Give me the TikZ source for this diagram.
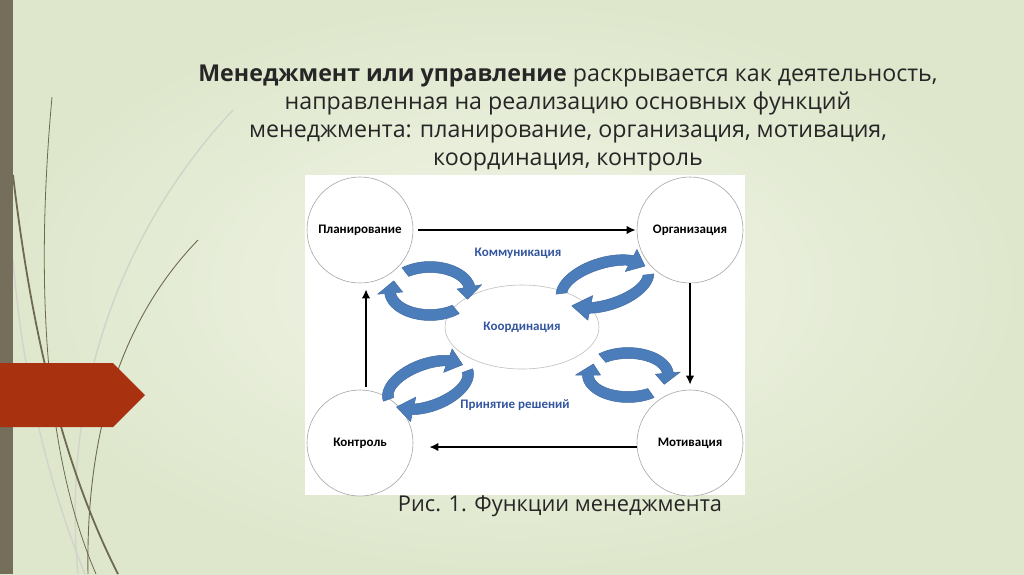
\documentclass[tikz,border=0pt]{standalone}
\usepackage{fontspec}
\setmainfont{Open Sans}
\newfontfamily\diagfont{Carlito}
\usetikzlibrary{arrows.meta,shapes.geometric}
\definecolor{barolive}{RGB}{116,110,90}
\definecolor{tagred}{RGB}{168,50,16}
\definecolor{curveolive}{RGB}{110,106,80}
\definecolor{rotblue}{RGB}{76,125,187}
\definecolor{labblue}{RGB}{52,86,160}
\definecolor{txtdark}{RGB}{38,38,38}

\newcommand{\rotarr}[7]{%
  \pgfmathsetmacro{\tipang}{#6+30*sign(#6-#5)}
  \begin{scope}[rotate around={#7:(#1,#2)}]
  \filldraw[rotblue!60!black!35!rotblue, fill=rotblue, line width=0.5pt, line join=round]
    plot[domain=#5:#6, samples=24] ({#1+(#3+5.5)*cos(\x)},{#2+(#4+5.5)*sin(\x)})
    -- ({#1+(#3+12.5)*cos(#6)},{#2+(#4+12.5)*sin(#6)})
    -- ({#1+#3*cos(\tipang)},{#2+#4*sin(\tipang)})
    -- ({#1+(#3-12.5)*cos(#6)},{#2+(#4-12.5)*sin(#6)})
    -- plot[domain=#6:#5, samples=24] ({#1+(#3-5.5)*cos(\x)},{#2+(#4-5.5)*sin(\x)})
    -- cycle;
  \end{scope}}

\begin{document}
\begin{tikzpicture}[x=1pt,y=-1pt,
  func/.style={circle, draw=gray!70, line width=0.6pt, fill=white, minimum size=106pt, inner sep=0pt, font=\diagfont\bfseries\fontsize{13}{15}\selectfont},
  bluetxt/.style={text=labblue, font=\diagfont\bfseries\fontsize{13}{15}\selectfont},
  flow/.style={line width=2.8pt, -{Latex[length=9pt,width=8.5pt]}},
  deco/.style={draw=curveolive, line width=1.1pt},
  decolight/.style={draw=curveolive!30, line width=1.4pt}]
\useasboundingbox (0,0) rectangle (1024,574);
\shade[inner color={rgb,255:red,242;green,245;blue,232}, outer color={rgb,255:red,222;green,231;blue,204}] (0,0) rectangle (1024,574);

\draw[decolight] (233,110) .. controls (130,220) and (60,380) .. (78,574);
\draw[decolight] (13,260) .. controls (25,400) and (55,500) .. (85,574);
\draw[deco, line width=0.8pt] (52,97) .. controls (38,250) and (38,440) .. (96,574);
\draw[deco, line width=1.8pt] (13,175) .. controls (30,320) and (60,460) .. (118,574);
\draw[deco, line width=0.9pt] (198,240) .. controls (140,300) and (85,400) .. (88,574);
\fill[barolive] (0,0) rectangle (13,574);
\fill[tagred] (0,363) -- (113,363) -- (145,395) -- (113,427) -- (0,427) -- cycle;

\node[text=txtdark, align=center, font=\fontsize{23.2}{28}\selectfont] (title) at (568,118)
  {\textbf{Менеджмент или управление} раскрывается как деятельность,\\
   направленная на реализацию основных функций\\
   менеджмента: планирование, организация, мотивация,\\
   координация, контроль};

\fill[white] (305,175) rectangle (745,495);

\node[func] (plan) at (360,230) {Планирование};
\node[func] (org) at (690,230) {Организация};
\node[func] (kontr) at (360,443) {Контроль};
\node[func] (motiv) at (690,443) {Мотивация};
\node[ellipse, draw=gray!50, line width=0.6pt, fill=white, minimum width=154pt, minimum height=84pt, bluetxt] (coord) at (522,327) {Координация};
\node[bluetxt] (komm) at (518,253) {Коммуникация};
\node[bluetxt] (resh) at (515,405) {Принятие решений};

\draw[flow] ([xshift=5pt]plan.east) -- ([xshift=-1pt]org.west);
\draw[flow] (org.south) -- ([yshift=5pt]motiv.north);
\draw[flow] ([yshift=-4pt]motiv.west) -- ([xshift=16pt,yshift=-4pt]kontr.east);
\draw[flow] ([xshift=6pt,yshift=3pt]kontr.north) -- ([xshift=6pt,yshift=-6pt]plan.south);

\rotarr{430}{291}{40}{24}{232}{350}{0}
\rotarr{430}{291}{40}{24}{50}{175}{0}
\rotarr{605}{284}{45}{21}{190}{315}{17}
\rotarr{605}{284}{45}{21}{10}{118}{17}
\rotarr{428}{385}{42}{21}{180}{310}{20}
\rotarr{428}{385}{42}{21}{0}{122}{20}
\rotarr{628}{375}{40}{22}{230}{355}{0}
\rotarr{628}{375}{40}{22}{55}{180}{0}

\node[text=txtdark, font=\fontsize{21.8}{24}\selectfont] (caption) at (560,506) {Рис. 1. Функции менеджмента};
\end{tikzpicture}
\end{document}
